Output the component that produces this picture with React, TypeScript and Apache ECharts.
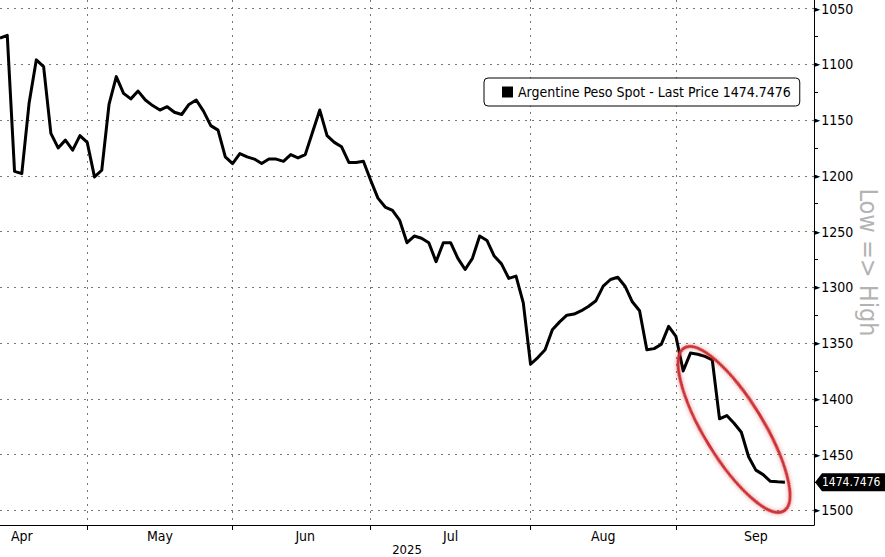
import { useEffect, useRef } from 'react';
import * as echarts from 'echarts';

const FONT = '"Liberation Sans Narrow", "DejaVu Sans Condensed", "Roboto Condensed", Roboto, sans-serif';

const seriesName = 'Argentine Peso Spot - Last Price';

// Argentine trading days shown on the axis
const firstDay = '2025-04-10';
const lastDay = '2025-09-25';
const holidays = [
  '2025-04-17', '2025-04-18', '2025-05-01', '2025-05-02',
  '2025-06-16', '2025-06-20', '2025-07-09', '2025-08-15'
];

// last trading day of each month (dotted separators)
const monthEnds = ['2025-04-30', '2025-05-30', '2025-06-30', '2025-07-31', '2025-08-29'];
// month names are centred on these days
const monthLabelDays = ['2025-04-15', '2025-05-16', '2025-06-13', '2025-07-16', '2025-08-14', '2025-09-15'];
const monthNames = ['Apr', 'May', 'Jun', 'Jul', 'Aug', 'Sep'];

// USD/ARS spot, one value per trading day from Apr 10
const spot = [
  1076.5, 1074, 1196, 1198, 1135, 1096, 1102, 1162, 1175, 1168,
  1177, 1164, 1170, 1201, 1195, 1136, 1111, 1126, 1131, 1124,
  1132, 1137, 1141, 1138, 1143, 1145, 1136, 1132, 1142, 1155,
  1159, 1183, 1189, 1180, 1183, 1185, 1189, 1185, 1185, 1187,
  1181, 1184, 1181, 1161, 1141, 1164, 1170, 1174, 1188, 1188,
  1187, 1204, 1220, 1228, 1231, 1240, 1260, 1254, 1256, 1260,
  1277, 1260, 1260, 1274, 1284, 1274, 1254, 1258, 1272, 1279,
  1292, 1290, 1314, 1369, 1363, 1356, 1338, 1331, 1325, 1324,
  1321, 1317, 1312, 1299, 1293, 1291, 1299, 1313, 1321, 1356,
  1355, 1351, 1335, 1344, 1375, 1359, 1360, 1362, 1365, 1418,
  1415, 1422, 1430, 1452, 1464, 1468, 1474, 1474.5, 1474.7476
];

const yMin = 1042.3;
const yMax = 1513.2;

// centre of the red annotation: [trading-day index, price]
const circled = [101.2, 1427.5];

function tradingDays(from: string, to: string, skip: string[]) {
  const out: string[] = [];
  const d = new Date(from + 'T00:00:00Z');
  const end = new Date(to + 'T00:00:00Z');
  while (d <= end) {
    const wd = d.getUTCDay();
    const s = d.toISOString().slice(0, 10);
    if (wd !== 0 && wd !== 6 && !skip.includes(s)) out.push(s);
    d.setUTCDate(d.getUTCDate() + 1);
  }
  return out;
}

const days = tradingDays(firstDay, lastDay, holidays);

export default function App() {
  const chartRef = useRef<HTMLDivElement | null>(null);

  useEffect(() => {
    if (!chartRef.current) return;
    const chart = echarts.init(chartRef.current, null, { renderer: 'svg' });
    const last = spot[spot.length - 1];

    chart.setOption({
      animation: false,
      backgroundColor: '#fff',
      textStyle: { fontFamily: FONT },
      grid: { left: 0, right: 71, top: 0, bottom: 32, outerBoundsMode: 'none', containLabel: false },
      legend: {
        data: [{ name: seriesName, icon: 'rect' }],
        left: 484,
        top: 78,
        itemWidth: 11,
        itemHeight: 11,
        itemGap: 5,
        selectedMode: false,
        backgroundColor: '#fff',
        borderColor: '#000',
        borderWidth: 1,
        borderRadius: 4,
        padding: [7, 9, 7, 18],
        formatter: (name: string) => `${name} ${last}`,
        textStyle: { fontFamily: FONT, fontSize: 14, color: '#000' }
      },
      xAxis: {
        type: 'category',
        data: days,
        boundaryGap: false,
        name: '2025',
        nameLocation: 'middle',
        nameGap: 17,
        nameMoveOverlap: false,
        nameTextStyle: { fontFamily: FONT, fontSize: 13, color: '#000', lineHeight: 14 },
        axisLine: { lineStyle: { color: '#000', width: 1 } },
        axisTick: {
          length: 5,
          interval: (_i: number, v: string) => monthEnds.includes(v),
          lineStyle: { color: '#000' }
        },
        axisLabel: {
          interval: (_i: number, v: string) => monthLabelDays.includes(v),
          formatter: (v: string) => monthNames[monthLabelDays.indexOf(v)],
          fontFamily: FONT,
          fontSize: 14,
          color: '#000',
          margin: 4
        },
        splitLine: {
          show: true,
          interval: (_i: number, v: string) => monthEnds.includes(v),
          lineStyle: { color: '#777', width: 1, type: [2, 5] }
        }
      },
      yAxis: {
        type: 'value',
        position: 'right',
        inverse: true,
        min: yMin,
        max: yMax,
        splitNumber: 9,
        minInterval: 50,
        maxInterval: 50,
        name: 'Low => High',
        nameLocation: 'middle',
        nameRotate: -90,
        nameGap: 42,
        nameMoveOverlap: false,
        nameTextStyle: { fontFamily: FONT, fontSize: 25, color: '#b3b3b3' },
        axisLine: { show: true, lineStyle: { color: '#000', width: 1 } },
        axisTick: { show: false },
        minorTick: { show: true, splitNumber: 2, length: 4, lineStyle: { color: '#000' } },
        axisLabel: {
          showMinLabel: false,
          showMaxLabel: false,
          margin: 0,
          fontFamily: FONT,
          fontSize: 14,
          color: '#000',
          formatter: (v: number) => `{t|►}${v}`,
          rich: { t: { fontSize: 9, color: '#000', padding: [0, 1, 0, 0] } }
        },
        splitLine: {
          show: true,
          showMinLine: false,
          showMaxLine: false,
          lineStyle: { color: '#777', width: 1, type: [2, 5] }
        }
      },
      series: [
        {
          name: seriesName,
          type: 'line',
          data: spot,
          showSymbol: false,
          itemStyle: { color: '#000' },
          lineStyle: { color: '#000', width: 3, join: 'round' }
        }
      ]
    });

    const [, tagY] = chart.convertToPixel({ seriesIndex: 0 }, [spot.length - 1, last]);
    const axisX = chart.convertToPixel({ xAxisIndex: 0 }, days[days.length - 1]);
    const [cx, cy] = chart.convertToPixel({ seriesIndex: 0 }, circled);

    chart.setOption({
      graphic: [
        {
          type: 'group',
          x: 491,
          y: 89,
          z: 100,
          children: [
            { type: 'rect', shape: { x: 0, y: 0, width: 6, height: 6 }, style: { fill: '#fff', stroke: '#777', lineWidth: 1 } },
            { type: 'line', shape: { x1: 1.5, y1: 3, x2: 4.5, y2: 3 }, style: { stroke: '#777', lineWidth: 1 } },
            { type: 'line', shape: { x1: 3, y1: 1.5, x2: 3, y2: 4.5 }, style: { stroke: '#777', lineWidth: 1 } }
          ]
        },
        {
          type: 'ellipse',
          x: cx,
          y: cy,
          rotation: (-58.5 * Math.PI) / 180,
          z: 100,
          shape: { cx: 0, cy: 0, rx: 95.5, ry: 29.6 },
          style: {
            fill: 'none',
            stroke: '#cc3036',
            lineWidth: 3,
            shadowBlur: 4,
            shadowColor: 'rgba(210,40,40,0.45)'
          }
        },
        {
          type: 'group',
          x: axisX,
          y: tagY,
          z: 100,
          children: [
            {
              type: 'polygon',
              shape: { points: [[1, 0], [8, -9], [80, -9], [80, 9], [8, 9]] },
              style: { fill: '#000' }
            },
            {
              type: 'text',
              x: 8,
              y: 0,
              style: {
                text: String(last),
                fill: '#fff',
                font: `12px ${FONT}`,
                verticalAlign: 'middle',
                align: 'left'
              }
            }
          ]
        }
      ]
    });

    return () => chart.dispose();
  }, []);

  return (
    <div
      ref={chartRef}
      style={{ position: 'fixed', left: 0, top: 0, width: 885, height: 557 }}
    />
  );
}
